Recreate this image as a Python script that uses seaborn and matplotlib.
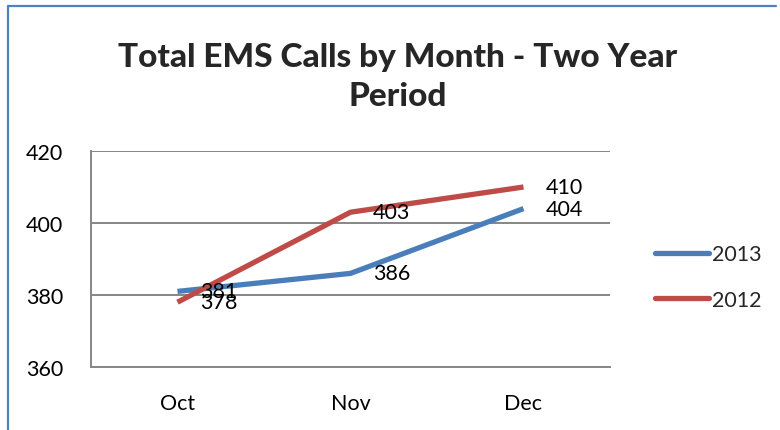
import matplotlib
matplotlib.use("Agg")
import matplotlib.pyplot as plt
import seaborn as sns
import pandas as pd
from matplotlib.lines import Line2D

months = ["Oct", "Nov", "Dec"]
calls_2013 = [381, 386, 404]
calls_2012 = [378, 403, 410]
series_names = ["2013", "2012"]
y_ticks = [360, 380, 400, 420]
title = "Total EMS Calls by Month - Two Year\nPeriod"

colors = {"2013": "#4A7EBB", "2012": "#BE4B48"}

df = pd.DataFrame({
    "Month": months * 2,
    "Calls": calls_2013 + calls_2012,
    "Year": ["2013"] * 3 + ["2012"] * 3,
})
df["x"] = df["Month"].map({m: i for i, m in enumerate(months)})

sns.set_theme(style="white")
plt.rcParams["font.family"] = ["Lato", "DejaVu Sans"]

fig = plt.figure(figsize=(7.8, 4.31), dpi=100)
ax = fig.add_axes([91 / 780, 1 - 368 / 431, (610 - 91) / 780, (368 - 152) / 431])

sns.lineplot(data=df, x="x", y="Calls", hue="Year", hue_order=series_names,
             palette=colors, linewidth=3.8, ax=ax, legend=False,
             solid_capstyle="butt")

for _, r in df.iterrows():
    ax.annotate(str(r["Calls"]), (r["x"], r["Calls"]), xytext=(16, 0),
                textcoords="offset points", ha="left", va="center",
                fontsize=15.5, color="black")

ax.set_xlim(-0.5, 2.5)
ax.set_ylim(360, 420)
ax.set_yticks(y_ticks)
ax.set_xticks(range(len(months)))
ax.set_xticklabels(months)
ax.set_xlabel("")
ax.set_ylabel("")
ax.tick_params(axis="both", labelsize=15.5, length=0, colors="black")
ax.tick_params(axis="y", pad=20)
ax.tick_params(axis="x", pad=19)
ax.grid(axis="y", color="#868686", linewidth=1.4)
for s in ["top", "right"]:
    ax.spines[s].set_visible(False)
for s in ["left", "bottom"]:
    ax.spines[s].set_color("#868686")
    ax.spines[s].set_linewidth(1.4)

handles = [Line2D([0], [0], color=colors[n], linewidth=3.8) for n in series_names]
fig.legend(handles, series_names, loc="center left", bbox_to_anchor=(636 / 780, 1 - 278 / 431),
           frameon=False, fontsize=15.5, handlelength=2.5, handletextpad=0.15,
           labelspacing=1.2)

fig.text(398 / 780, 1 - 77 / 431, title, ha="center", va="center",
         fontsize=24, fontweight="black", linespacing=1.44)

# outer chart frame (top and left visible)
fig.add_artist(Line2D([8 / 780, 776 / 780], [1 - 7 / 431, 1 - 7 / 431],
                      transform=fig.transFigure, color="#4F81BD", linewidth=1.6))
fig.add_artist(Line2D([8 / 780, 8 / 780], [1 - 7 / 431, 0],
                      transform=fig.transFigure, color="#4F81BD", linewidth=1.6))

fig.savefig("out.png", dpi=100)
